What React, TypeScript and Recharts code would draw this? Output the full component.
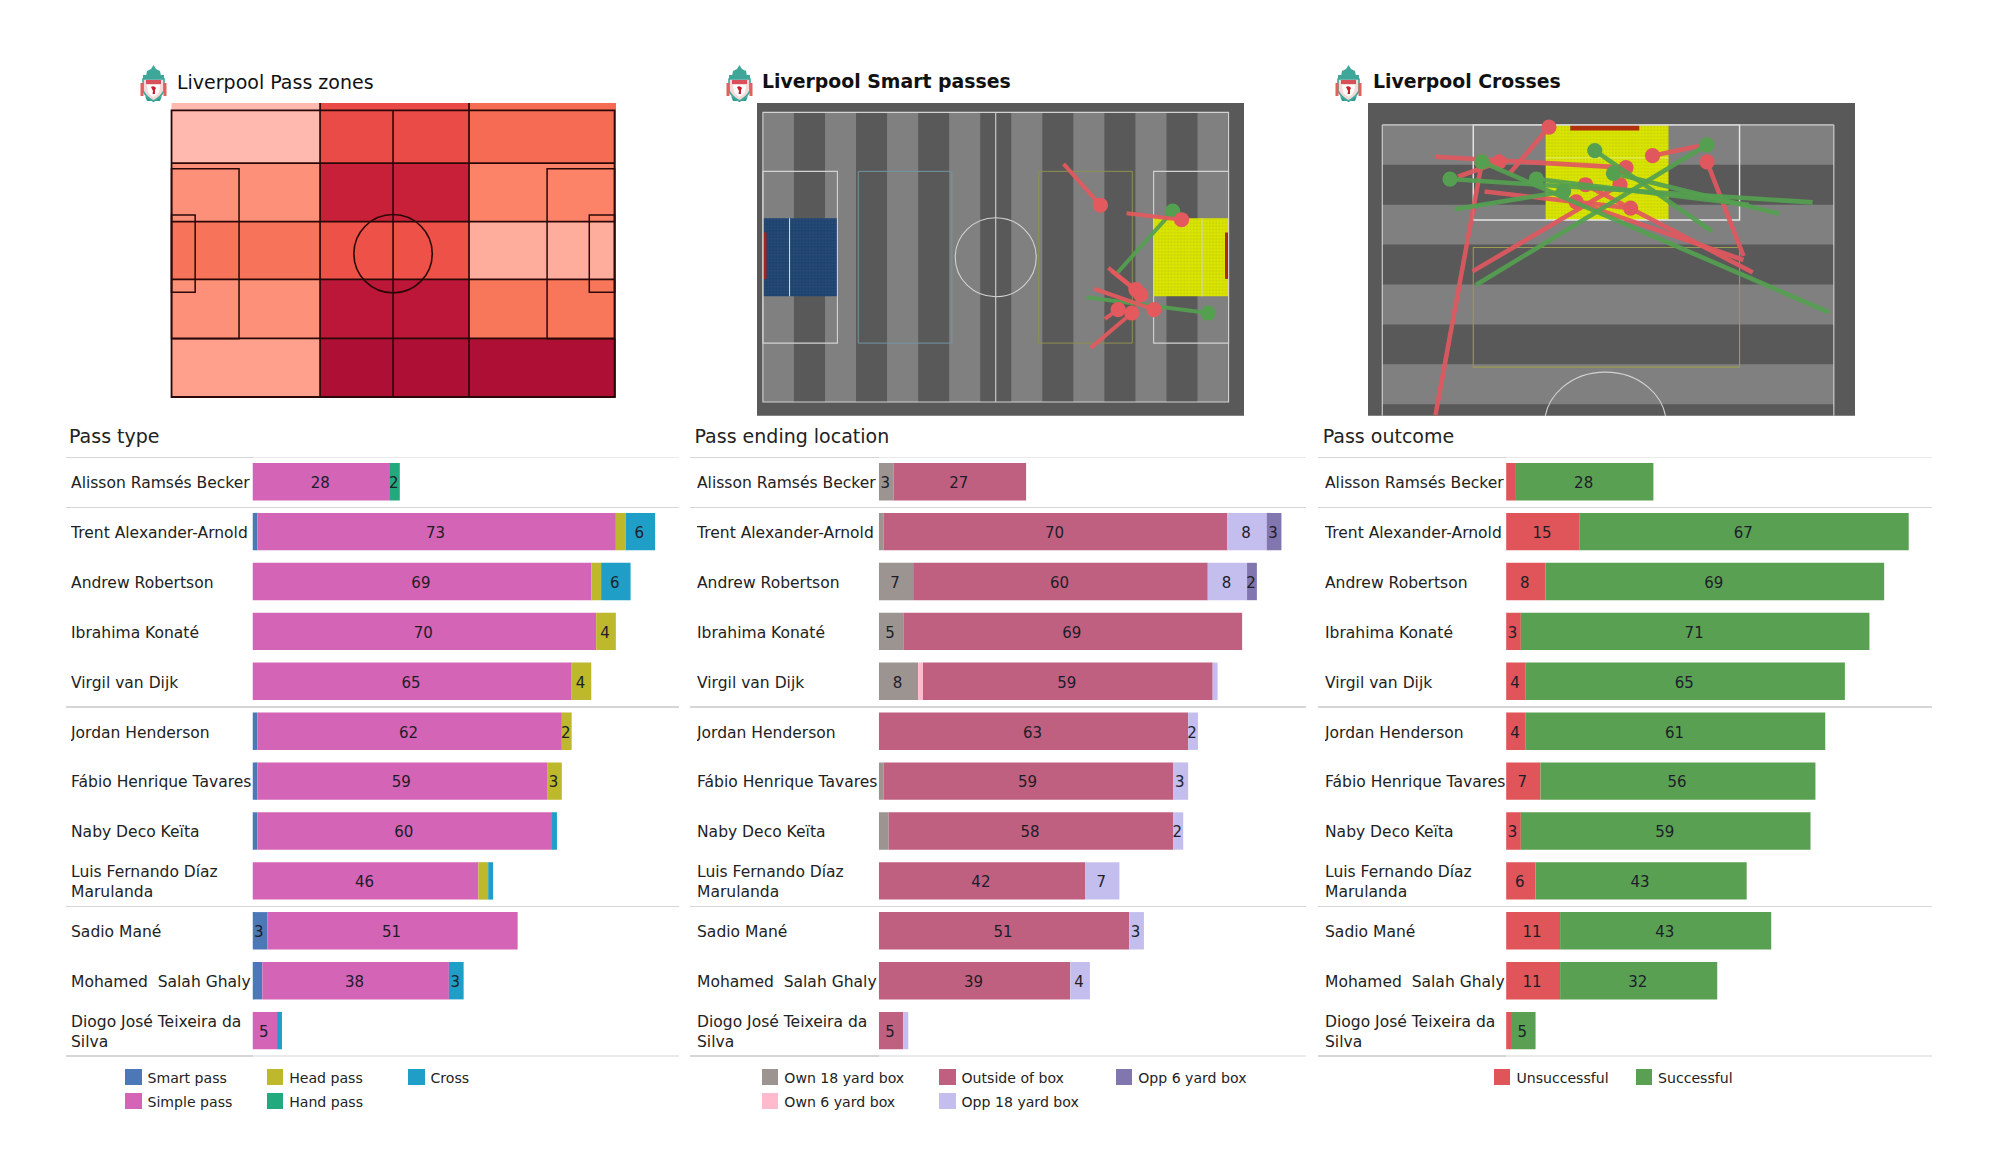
import React from "react";
import {
  BarChart,
  Bar,
  XAxis,
  YAxis,
  LabelList,
  ScatterChart,
  Scatter,
  ReferenceArea,
  ReferenceLine,
  ReferenceDot,
} from "recharts";

const FONT = "'DejaVu Sans', sans-serif";

// players, same order in all three tables
const players = [
  "Alisson Ramsés Becker",
  "Trent Alexander-Arnold",
  "Andrew Robertson",
  "Ibrahima Konaté",
  "Virgil van Dijk",
  "Jordan Henderson",
  "Fábio Henrique Tavares",
  "Naby Deco Keïta",
  "Luis Fernando Díaz\nMarulanda",
  "Sadio Mané",
  "Mohamed  Salah Ghaly",
  "Diogo José Teixeira da\nSilva",
];

// Pass type
const smartPass = [0, 1, 0, 0, 0, 1, 1, 1, 0, 3, 2, 0];
const simplePass = [28, 73, 69, 70, 65, 62, 59, 60, 46, 51, 38, 5];
const headPass = [0, 2, 2, 4, 4, 2, 3, 0, 2, 0, 0, 0];
const handPass = [2, 0, 0, 0, 0, 0, 0, 0, 0, 0, 0, 0];
const crossPass = [0, 6, 6, 0, 0, 0, 0, 1, 1, 0, 3, 1];

// Pass ending location
const own18 = [3, 1, 7, 5, 8, 0, 1, 2, 0, 0, 0, 0];
const own6 = [0, 0, 0, 0, 1, 0, 0, 0, 0, 0, 0, 0];
const outsideBox = [27, 70, 60, 69, 59, 63, 59, 58, 42, 51, 39, 5];
const opp18 = [0, 8, 8, 0, 1, 2, 3, 2, 7, 3, 4, 1];
const opp6 = [0, 3, 2, 0, 0, 0, 0, 0, 0, 0, 0, 0];

// Pass outcome
const unsuccessful = [2, 15, 8, 3, 4, 4, 7, 3, 6, 11, 11, 1];
const successful = [28, 67, 69, 71, 65, 61, 56, 59, 43, 43, 32, 5];

// segments that carry no number in the tables: [player index, series name]
const unlabelled = [
  [1, "Head pass"],
  [2, "Head pass"],
  [8, "Head pass"],
  [10, "Smart pass"],
  [7, "Own 18 yard box"],
  [0, "Unsuccessful"],
];

// pass zones heat map, pitch metres
const zoneX = [0, 35.2, 70.5, 105.33];
const zoneY = [-1.76, 12.5, 26.4, 40.1, 54.1, 68.16];
const zoneColors = [
  ["#FFB9AE", "#EA4B46", "#F66B53"],
  ["#FC9078", "#C9203A", "#FC8268"],
  ["#F7735A", "#ED5147", "#FEAC9C"],
  ["#FC9078", "#BC1638", "#F87659"],
  ["#FEA08B", "#AD1034", "#AD1034"],
];

const stripeEdges = [0, 7, 14, 21, 28, 35, 42, 49, 56, 63, 70, 77, 84, 91, 98, 105];

// smart passes: from x, from y, to x, to y
const smartFailed = [
  [67.8, 12.1, 76.1, 21.8],
  [82, 23.7, 94.4, 25.2],
  [77.9, 36.5, 84.1, 41.6],
  [78.6, 37.2, 85.2, 42.8],
  [74.7, 41.4, 88.2, 46.3],
  [77.1, 48.5, 80.1, 46.3],
  [73.9, 55.3, 83.2, 47.1],
];
const smartDone = [
  [79.9, 37.7, 92.4, 23.2],
  [72.9, 43.4, 100.4, 47.1],
];

// crosses: from across, from depth, to across, to depth
const crossFailed = [
  [8, 51, 15, 6.5],
  [8, 5.6, 36.7, 7.5],
  [19.2, 8.5, 25.1, 0.4],
  [54.4, 23, 48.9, 6.5],
  [47.7, 3.7, 40.7, 5.4],
  [11.4, 9.1, 17.6, 6.5],
  [15.4, 11.7, 37.4, 14.6],
  [13.6, 25.7, 35.8, 10.5],
  [54.4, 23.7, 29.2, 13.5],
  [55.8, 25.9, 30.6, 10.5],
];
const crossDone = [
  [64.8, 13.6, 10.2, 9.5],
  [59.8, 15.6, 34.8, 8.5],
  [49.7, 18.7, 32, 4.5],
  [67.3, 32.9, 15, 6.5],
  [14.1, 28.1, 48.9, 3.5],
  [10.9, 14.8, 27.3, 11.7],
  [55.2, 14, 23.2, 9.5],
];

const passTypeSeries = [
  { name: "Smart pass", color: "#4C78B8", values: smartPass },
  { name: "Simple pass", color: "#D364B6", values: simplePass },
  { name: "Head pass", color: "#BDB82C", values: headPass },
  { name: "Hand pass", color: "#22AA7E", values: handPass },
  { name: "Cross", color: "#1F9FC8", values: crossPass },
];
const locationSeries = [
  { name: "Own 18 yard box", color: "#9C9490", values: own18 },
  { name: "Own 6 yard box", color: "#FFBBCD", values: own6 },
  { name: "Outside of box", color: "#C06080", values: outsideBox },
  { name: "Opp 18 yard box", color: "#C4BEEE", values: opp18 },
  { name: "Opp 6 yard box", color: "#8276AE", values: opp6 },
];
const outcomeSeries = [
  { name: "Unsuccessful", color: "#E05559", values: unsuccessful },
  { name: "Successful", color: "#5AA052", values: successful },
];

const BAND = 49.9;
const PLOT_TOP = 457.4;
const PLOT_W = 426;
const groupBreaks = [0, 1, 5, 9, 12];

const Crest = ({ left }: { left: number }) => (
  <svg style={{ position: "absolute", left, top: 65 }} width={27} height={37} viewBox="0 0 27 37">
    <path d="M13.5 0 L16 4 L20 6 L21 11 L6 11 L7 6 L11 4 Z" fill="#3FA79A" />
    <rect x="3" y="10" width="21" height="4" fill="#3FA79A" />
    <path d="M3 14 L24 14 L24 26 Q20 33 13.5 36 Q7 33 3 26 Z" fill="#F4DAD8" stroke="#3FA79A" strokeWidth="1.6" />
    <rect x="6" y="15" width="15" height="4" fill="#D8505A" />
    <path d="M7 20 L20 20 L19 27 Q16 31 13.5 32 Q11 31 8 27 Z" fill="#FFFFFF" />
    <path d="M11 22 Q14 20 16 23 L15 25 L15 29 L12.5 29 L13 26 Z" fill="#C8202F" />
    <rect x="0.5" y="18" width="3" height="13" fill="#E0625E" />
    <rect x="23.5" y="18" width="3" height="13" fill="#E0625E" />
    <path d="M5 31 L13.5 37 L22 31 L20 36 L7 36 Z" fill="#2F9C8E" />
  </svg>
);

const PlayerTick = ({ y, payload }: any) => {
  const lines = String(payload.value).split("\n");
  return (
    <text
      x={0}
      y={y}
      fontSize={15.55}
      fontFamily={FONT}
      fill="#222"
      xmlSpace="preserve"
      style={{ whiteSpace: "pre" }}
    >
      {lines.map((line, i) => (
        <tspan key={i} x={0} dy={i === 0 ? (lines.length > 1 ? -4 : 6.1) : 19.7}>
          {line}
        </tspan>
      ))}
    </text>
  );
};

type Series = { name: string; color: string; values: number[] };

const BarPanel = ({
  title,
  titleX,
  labelX,
  barX,
  lineX,
  lineEnd,
  series,
  legendX,
  legendColumns,
}: {
  title: string;
  titleX: number;
  labelX: number;
  barX: number;
  lineX: number;
  lineEnd: number;
  series: Series[];
  legendX: number[];
  legendColumns: number;
}) => {
  const rows = players.map((name, i) => {
    const row: any = { name };
    series.forEach((s) => {
      const hidden = unlabelled.some(([p, n]) => p === i && n === s.name);
      row[s.name] = s.values[i];
      row[s.name + " label"] = s.values[i] >= 2 && !hidden ? s.values[i] : null;
    });
    return row;
  });

  return (
    <>
      <div
        style={{
          position: "absolute",
          left: titleX,
          top: 424.5,
          fontSize: 19,
          lineHeight: "22px",
          color: "#222",
          whiteSpace: "nowrap",
        }}
      >
        {title}
      </div>
      {groupBreaks.map((b, i) => {
        const edge = i === 0 || i === groupBreaks.length - 1;
        const y = PLOT_TOP + b * BAND - 0.8;
        return (
          <React.Fragment key={b}>
            <div
              style={{ position: "absolute", left: lineX, top: y, width: barX - lineX, height: 1.6, background: "#D6D6D6" }}
            />
            <div
              style={{
                position: "absolute",
                left: barX,
                top: y,
                width: lineEnd - barX,
                height: 1.6,
                background: edge ? "#EAEAEA" : "#D6D6D6",
              }}
            />
          </React.Fragment>
        );
      })}
      <div style={{ position: "absolute", left: labelX, top: PLOT_TOP }}>
        <BarChart
          width={barX - labelX + PLOT_W}
          height={BAND * players.length}
          data={rows}
          layout="vertical"
          margin={{ top: 0, right: 0, bottom: 0, left: 0 }}
          barSize={37.4}
        >
          <XAxis type="number" hide domain={[0, 86.76]} allowDataOverflow />
          <YAxis
            type="category"
            dataKey="name"
            width={barX - labelX}
            axisLine={false}
            tickLine={false}
            interval={0}
            tick={PlayerTick}
          />
          {series.map((s) => (
            <Bar key={s.name} dataKey={s.name} stackId="a" fill={s.color} isAnimationActive={false}>
              <LabelList
                dataKey={s.name + " label"}
                position="center"
                fontSize={15}
                fontFamily={FONT}
                fill="#1d1d2a"
                dx={-1}
                dy={1}
              />
            </Bar>
          ))}
        </BarChart>
      </div>
      {series.map((s, i) => {
        const col = legendColumns === 1 ? i : Math.floor(i / 2);
        const row = legendColumns === 1 ? 0 : i % 2;
        return (
          <React.Fragment key={s.name}>
            <div
              style={{
                position: "absolute",
                left: legendX[col],
                top: 1068.7 + row * 24,
                width: 16.5,
                height: 16.5,
                background: s.color,
              }}
            />
            <div
              style={{
                position: "absolute",
                left: legendX[col] + 22.5,
                top: 1068.7 + row * 24,
                fontSize: 14.1,
                lineHeight: "18px",
                color: "#222",
                whiteSpace: "nowrap",
              }}
            >
              {s.name}
            </div>
          </React.Fragment>
        );
      })}
    </>
  );
};

const PitchFrame = ({ left, top, width, height, xDomain, yDomain, children }: any) => (
  <div style={{ position: "absolute", left, top, width, height, overflow: "hidden" }}>
    <ScatterChart width={width} height={height} margin={{ top: 0, right: 0, bottom: 0, left: 0 }}>
      <XAxis type="number" dataKey="x" hide domain={xDomain} allowDataOverflow />
      <YAxis type="number" dataKey="y" hide reversed domain={yDomain} allowDataOverflow width={0} />
      {children}
    </ScatterChart>
  </div>
);

const box = (x1: number, x2: number, y1: number, y2: number, stroke: string, w: number, key: string) => (
  <ReferenceArea
    key={key}
    x1={x1}
    x2={x2}
    y1={y1}
    y2={y2}
    fill="none"
    stroke={stroke}
    strokeWidth={w}
    ifOverflow="visible"
  />
);

const seg = (x1: number, y1: number, x2: number, y2: number, stroke: string, w: number, key: string) => (
  <ReferenceLine
    key={key}
    segment={[
      { x: x1, y: y1 },
      { x: x2, y: y2 },
    ]}
    stroke={stroke}
    strokeWidth={w}
    ifOverflow="visible"
  />
);

const passSeries = (passes: number[][], color: string, width: number, prefix: string) =>
  passes.map((p, i) => (
    <Scatter
      key={prefix + i}
      data={[
        { x: p[0], y: p[1], end: false },
        { x: p[2], y: p[3], end: true },
      ]}
      line={{ stroke: color, strokeWidth: width, strokeOpacity: 0.92 }}
      fill={color}
      isAnimationActive={false}
      shape={(props: any) =>
        props.payload?.end ? <circle cx={props.cx} cy={props.cy} r={7.6} fill={color} /> : <g />
      }
    />
  ));

const HALO = "#2B0808";

const ZonesPitch = () => (
  <PitchFrame left={170} top={103.3} width={446} height={294.7} xDomain={[-0.36, 105.33]} yDomain={[-1.76, 68.16]}>
    {zoneColors.map((row, r) =>
      row.map((color, c) => (
        <ReferenceArea
          key={`${r}-${c}`}
          x1={zoneX[c]}
          x2={zoneX[c + 1]}
          y1={zoneY[r]}
          y2={zoneY[r + 1]}
          fill={color}
          fillOpacity={1}
          ifOverflow="visible"
        />
      ))
    )}
    {zoneX.slice(1, 3).map((x) => seg(x, -1.76, x, 68.16, HALO, 1.7, "zx" + x))}
    {zoneY.slice(1, 5).map((y) => seg(0, y, 105, y, HALO, 1.7, "zy" + y))}
    {box(0, 105, 0, 68, HALO, 1.8, "outer")}
    {seg(52.5, 0, 52.5, 68, HALO, 1.6, "half")}
    {box(0, 16, 13.84, 54.16, HALO, 1.5, "pl")}
    {box(89, 105, 13.84, 54.16, HALO, 1.5, "pr")}
    {box(0, 5.6, 24.84, 43.16, HALO, 1.5, "sl")}
    {box(99, 105, 24.84, 43.16, HALO, 1.5, "sr")}
    <ReferenceDot
      x={52.5}
      y={34}
      ifOverflow="visible"
      shape={(p: any) => <circle cx={p.cx} cy={p.cy} r={39.2} fill="none" stroke={HALO} strokeWidth={1.6} />}
    />
  </PitchFrame>
);

const Dots = ({ id, fill, dot }: { id: string; fill: string; dot: string }) => (
  <defs>
    <pattern id={id} width={3.2} height={3.2} patternUnits="userSpaceOnUse">
      <rect width={3.2} height={3.2} fill={fill} />
      <circle cx={1.6} cy={1.6} r={0.6} fill={dot} />
    </pattern>
  </defs>
);

const LINE = "#D2D2D2";

const SmartPitch = () => (
  <PitchFrame left={757} top={103.3} width={487} height={312.7} xDomain={[-1.33, 108.48]} yDomain={[-2.2, 71.2]}>
    <Dots id="blueDots" fill="#1F4470" dot="#36587F" />
    <Dots id="limeDots" fill="#D8E400" dot="#B4BC10" />
    <ReferenceArea x1={-1.33} x2={108.48} y1={-2.2} y2={71.2} fill="#595959" fillOpacity={1} ifOverflow="visible" />
    {stripeEdges.slice(0, -1).map((x, i) =>
      i % 2 === 0 ? (
        <ReferenceArea key={x} x1={x} x2={stripeEdges[i + 1]} y1={0} y2={68} fill="#808080" fillOpacity={1} ifOverflow="visible" />
      ) : null
    )}
    <ReferenceArea x1={0} x2={16.8} y1={24.84} y2={43.16} fill="url(#blueDots)" fillOpacity={1} ifOverflow="visible" />
    <ReferenceArea x1={88.1} x2={105} y1={24.84} y2={43.16} fill="url(#limeDots)" fillOpacity={1} ifOverflow="visible" />
    <ReferenceArea x1={0} x2={0.8} y1={28.2} y2={39.1} fill="#A82020" fillOpacity={1} ifOverflow="visible" />
    <ReferenceArea x1={104.2} x2={105} y1={28.2} y2={39.1} fill="#B02A00" fillOpacity={1} ifOverflow="visible" />
    {box(0, 105, 0, 68, LINE, 1.1, "outer")}
    {seg(52.5, 0, 52.5, 68, LINE, 1.1, "half")}
    {box(0, 16.8, 13.84, 54.16, LINE, 1.1, "pl")}
    {box(88.1, 105, 13.84, 54.16, LINE, 1.1, "pr")}
    {seg(6, 24.84, 6, 43.16, LINE, 1.1, "sl")}
    {seg(99, 24.84, 99, 43.16, LINE, 1.1, "sr")}
    {box(21.5, 42.6, 13.84, 54.16, "#7396A3", 1, "blueBox")}
    {box(62.2, 83.3, 13.84, 54.16, "#8F8F4F", 1, "yellowBox")}
    <ReferenceDot
      x={52.5}
      y={34}
      ifOverflow="visible"
      shape={(p: any) => <ellipse cx={p.cx} cy={p.cy} rx={40.5} ry={39.5} fill="none" stroke={LINE} strokeWidth={1.1} />}
    />
    {passSeries(smartDone, "#55A050", 4, "sd")}
    {passSeries(smartFailed, "#E4595D", 4, "sf")}
  </PitchFrame>
);

const CrossPitch = () => (
  <PitchFrame left={1367.5} top={103.3} width={487.9} height={312.7} xDomain={[-2.15, 71.32]} yDomain={[-3.84, 51.02]}>
    <Dots id="limeDots2" fill="#D8E400" dot="#B4BC10" />
    <ReferenceArea x1={-2.15} x2={71.32} y1={-3.84} y2={51.02} fill="#595959" fillOpacity={1} ifOverflow="visible" />
    {stripeEdges.slice(0, 8).map((y, i) =>
      i % 2 === 0 ? (
        <ReferenceArea key={y} x1={0} x2={68} y1={y} y2={stripeEdges[i + 1]} fill="#808080" fillOpacity={1} ifOverflow="visible" />
      ) : null
    )}
    <ReferenceArea x1={24.6} x2={43.1} y1={0} y2={16.7} fill="url(#limeDots2)" fillOpacity={1} ifOverflow="visible" />
    <ReferenceArea x1={28.3} x2={38.7} y1={0} y2={1} fill="#B03010" fillOpacity={1} ifOverflow="visible" />
    {seg(0, 0, 68, 0, LINE, 1.1, "top")}
    {seg(0, 0, 0, 51.02, LINE, 1.1, "left")}
    {seg(68, 0, 68, 51.02, LINE, 1.1, "right")}
    {box(13.7, 53.8, 0, 16.7, "#E8E8E8", 1.4, "pen")}
    {seg(24.6, 5.8, 43.1, 5.8, "#E6EE70", 1, "six")}
    {box(13.7, 53.8, 21.5, 42.5, "#9A9A50", 1.1, "yellowBox")}
    <ReferenceDot
      x={33.6}
      y={52.5}
      ifOverflow="visible"
      shape={(p: any) => <ellipse cx={p.cx} cy={p.cy} rx={60.8} ry={52} fill="none" stroke={LINE} strokeWidth={1.1} />}
    />
    {passSeries(crossFailed, "#E0585E", 4.6, "cf")}
    {passSeries(crossDone, "#55A050", 4.6, "cd")}
  </PitchFrame>
);

const Title = ({ left, bold, children }: any) => (
  <div
    style={{
      position: "absolute",
      left,
      top: 69.5,
      fontSize: bold ? 18.85 : 19,
      lineHeight: "24px",
      fontWeight: bold ? 700 : 400,
      color: "#111",
      whiteSpace: "nowrap",
    }}
  >
    {children}
  </div>
);

export default function App() {
  return (
    <div
      style={{
        position: "absolute",
        left: 0,
        top: 0,
        width: 2000,
        height: 1175,
        background: "#fff",
        overflow: "hidden",
        fontFamily: FONT,
      }}
    >
      <Crest left={140} />
      <Title left={177}>Liverpool Pass zones</Title>
      <ZonesPitch />
      <Crest left={726} />
      <Title left={762} bold>
        Liverpool Smart passes
      </Title>
      <SmartPitch />
      <Crest left={1335} />
      <Title left={1373} bold>
        Liverpool Crosses
      </Title>
      <CrossPitch />

      <BarPanel
        title="Pass type"
        titleX={69}
        labelX={71}
        barX={252.5}
        lineX={66}
        lineEnd={678.6}
        series={passTypeSeries}
        legendX={[125, 266.7, 408]}
        legendColumns={3}
      />
      <BarPanel
        title="Pass ending location"
        titleX={694.5}
        labelX={697}
        barX={878.8}
        lineX={690}
        lineEnd={1306}
        series={locationSeries}
        legendX={[761.8, 939, 1115.7]}
        legendColumns={3}
      />
      <BarPanel
        title="Pass outcome"
        titleX={1322.7}
        labelX={1324.5}
        barX={1505.6}
        lineX={1317.6}
        lineEnd={1932}
        series={outcomeSeries}
        legendX={[1493.9, 1635.5]}
        legendColumns={1}
      />
    </div>
  );
}
